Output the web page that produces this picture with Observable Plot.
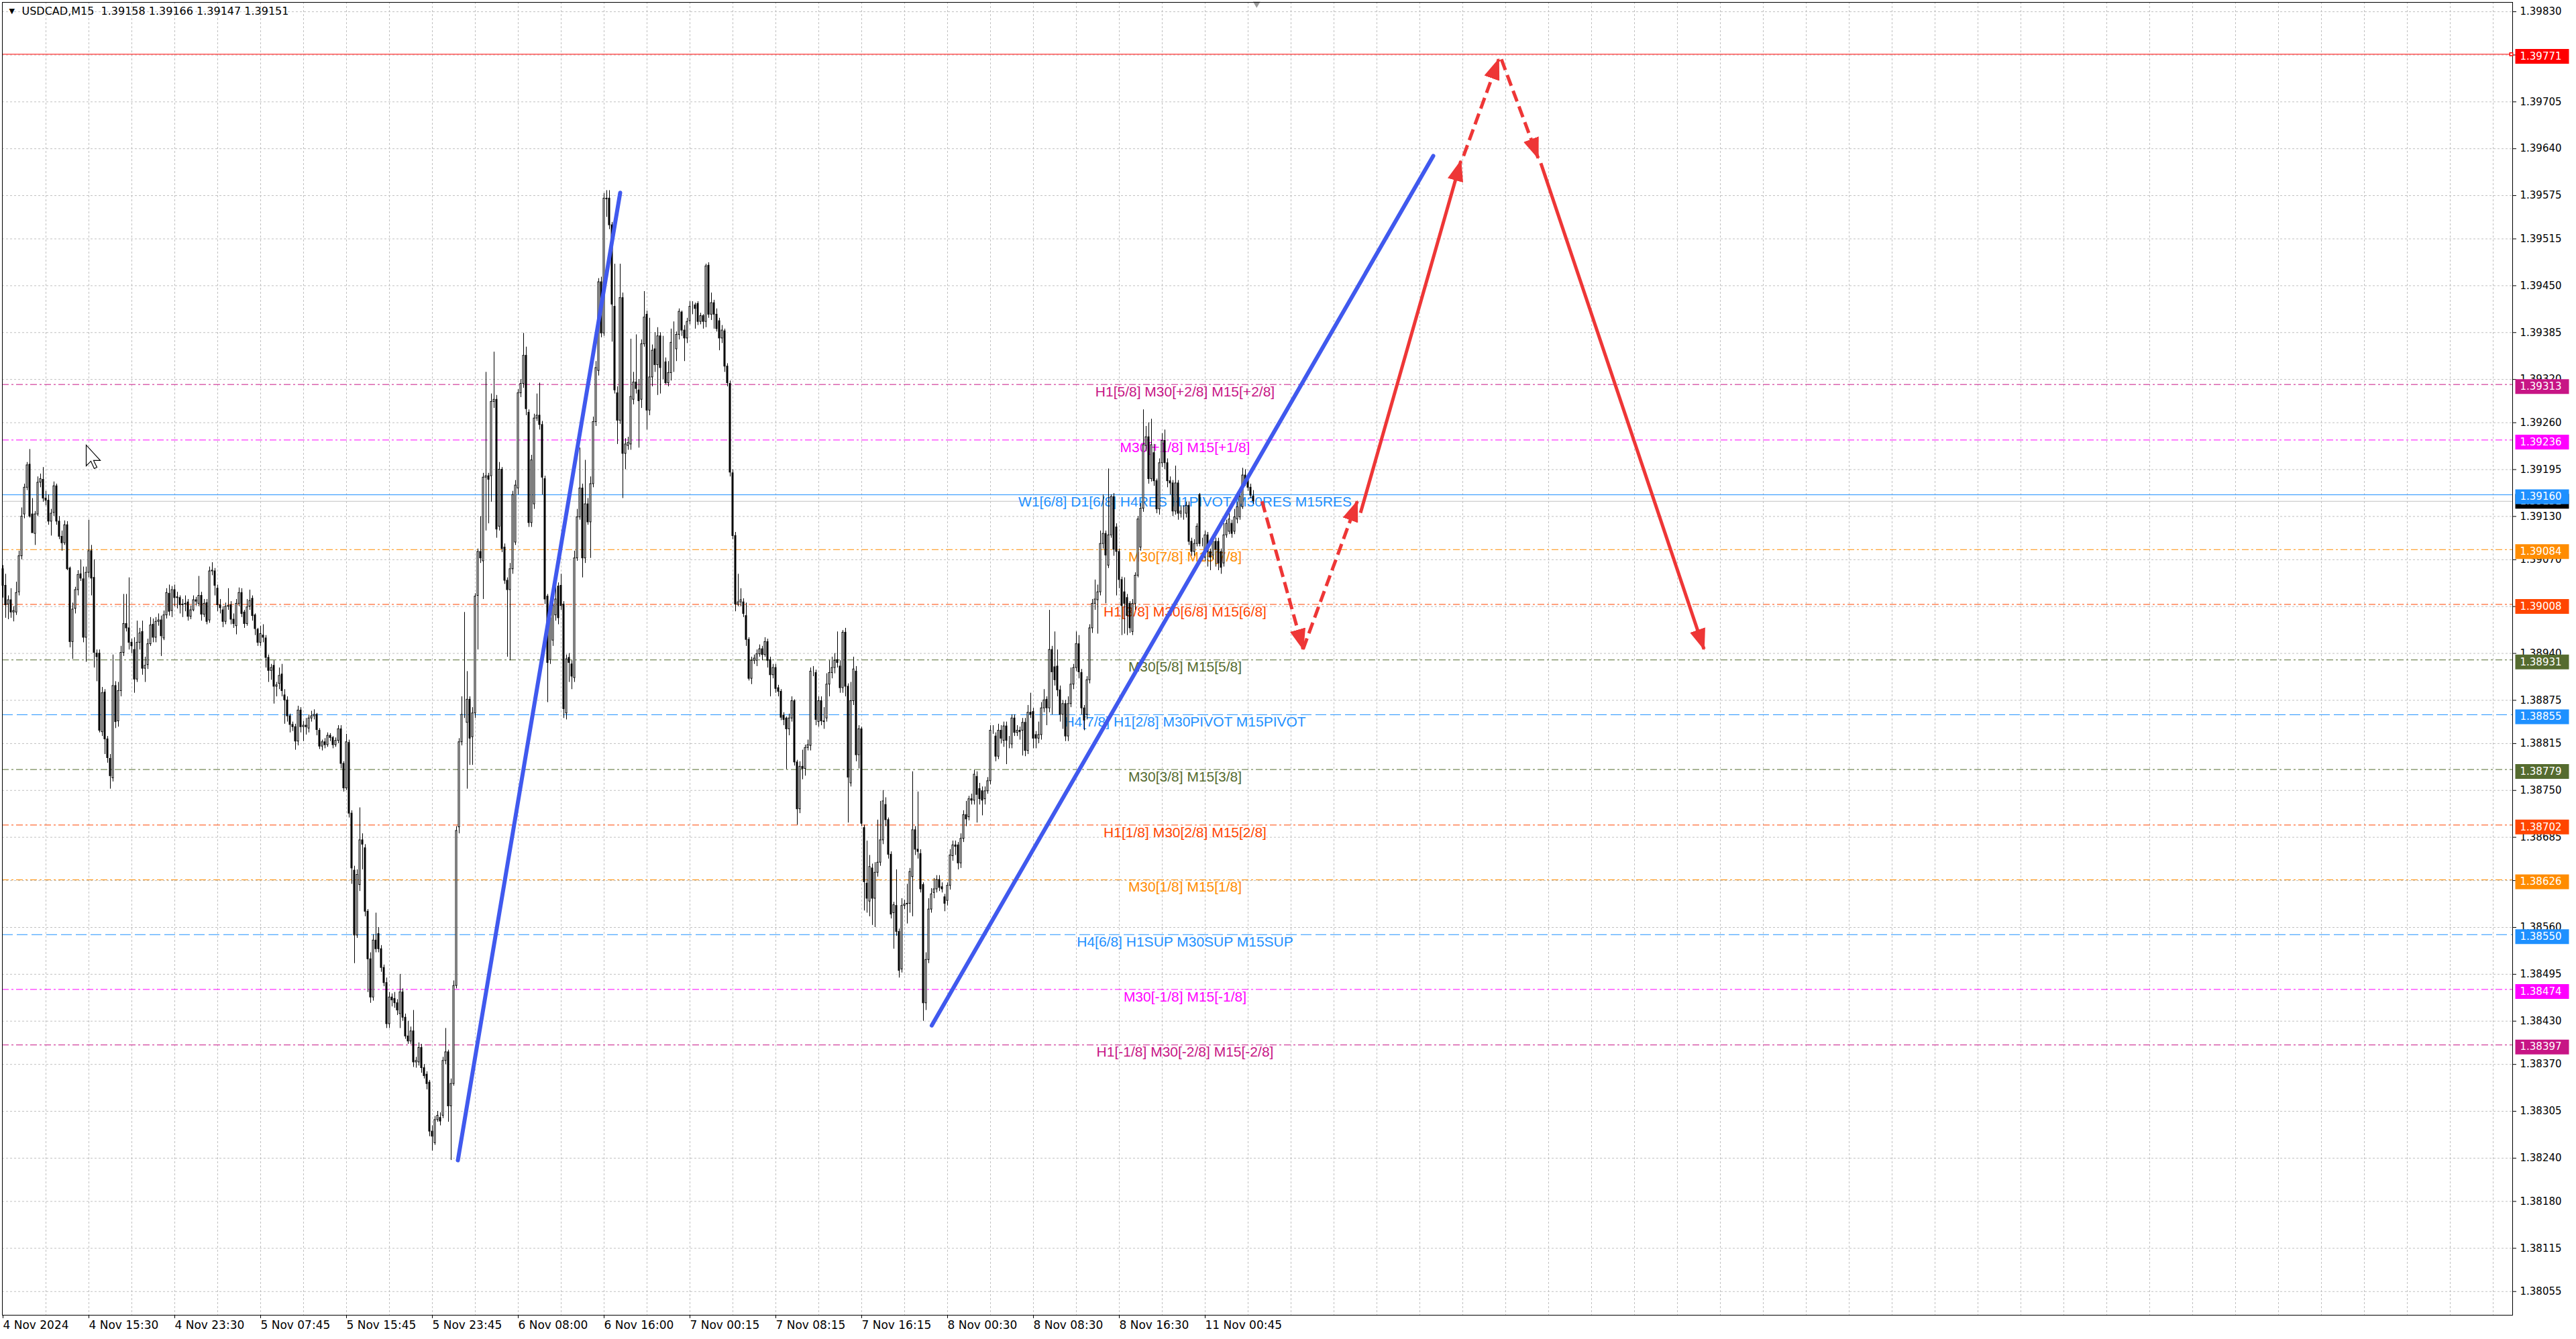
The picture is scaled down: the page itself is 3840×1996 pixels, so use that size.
<!DOCTYPE html>
<html><head><meta charset="utf-8">
<script src="https://cdn.jsdelivr.net/npm/d3@7"></script>
<script src="https://cdn.jsdelivr.net/npm/@observablehq/plot@0.6"></script>
<style>
html,body{margin:0;padding:0;background:#fff;}
#chart{width:3840px;height:1996px;overflow:hidden;}
</style></head><body><div id="chart"></div>
<script>
// ---------------- DATA ----------------
const symbolTitle = "USDCAD,M15\u00a0 1.39158 1.39166 1.39147 1.39151";
const BASE = 1.38; // candle values below are points (1e-5) above BASE
const openPts = [
1057,1034,1008,1014,997,997,1025,1075,1133,1170,
1202,1133,1106,1133,1177,1181,1155,1152,1123,1135,
1172,1123,1102,1093,1118,1058,956,1002,1028,1050,
1043,962,1052,1082,1045,940,940,831,886,821,
794,767,895,846,888,941,981,975,955,945,
904,955,970,919,924,953,980,962,984,986,
961,993,1023,999,1028,1018,1017,1007,1008,1011,
991,1000,1014,1009,1020,994,1010,986,1054,1054,
1030,1007,1000,984,1005,1007,987,978,1009,1024,
997,981,1005,1016,993,973,955,965,961,934,
916,923,894,898,911,882,875,853,841,838,
818,861,838,840,836,850,853,855,833,811,
817,813,826,823,813,819,835,787,753,816,
718,639,549,619,681,670,582,516,463,542,
551,530,504,483,426,463,461,455,440,470,
435,409,402,416,373,373,393,365,356,345,
277,261,293,296,299,375,387,312,343,479,
699,817,855,844,876,824,857,1020,1081,1068,
1184,1186,1186,1289,1292,1116,1195,1087,1041,1028,
1057,1094,1169,1301,1314,1353,1274,1121,1147,1266,
1270,1257,1182,1019,931,958,993,1033,1034,1008,
857,934,925,906,1072,1129,1169,1072,1147,1122,
1175,1261,1332,1455,1384,1570,1571,1534,1421,1301,
1263,1433,1217,1228,1230,1292,1316,1305,1292,1369,
1410,1277,1323,1362,1340,1380,1347,1344,1315,1329,
1366,1362,1382,1413,1388,1377,1401,1421,1423,1425,
1400,1408,1400,1478,1410,1426,1410,1401,1377,1387,
1338,1314,1190,1103,1008,1011,1011,992,959,905,
930,930,939,946,938,956,931,910,920,892,
887,854,850,835,850,874,789,724,783,780,
809,812,915,913,845,874,846,850,897,913,
920,931,922,892,969,894,760,874,915,799,
835,698,621,596,642,600,636,650,681,730,
709,661,580,590,554,502,590,592,593,630,
695,668,662,619,455,515,585,608,613,626,
616,602,597,618,659,674,674,649,683,716,
713,738,736,769,752,749,738,749,763,833,
825,797,833,819,839,816,814,850,830,833,
833,844,805,858,859,827,822,827,864,876,
864,945,921,922,889,855,870,825,870,897,
920,953,913,864,855,903,975,1009,1014,1025,
1092,1106,1062,1104,1157,1115,1081,1042,1025,1017,
1009,970,1009,1048,1087,1141,1228,1240,1182,1218,
1179,1140,1204,1235,1204,1179,1176,1137,1176,1134,
1137,1134,1145,1095,1081,1092,1160,1094,1073,1104,
1081,1076,1095,1095,1081,1065,1104,1109,1120,1109,
1126,1129,1143,1187,1182,1170,1158];
const closePts = [
1034,1007,1014,997,999,1024,1075,1130,1170,1201,
1130,1107,1133,1177,1182,1155,1152,1123,1134,1172,
1123,1102,1093,1118,1057,956,1001,1028,1049,1044,
962,1052,1082,1044,941,935,833,885,821,795,
770,895,845,888,941,981,975,955,950,904,
955,968,919,923,953,979,962,984,986,964,
993,1024,998,1028,1017,1017,1007,1008,1009,991,
1000,1014,1012,1020,994,1009,984,1054,1055,1034,
1007,1003,984,1005,1006,987,981,1009,1024,995,
981,1004,1013,992,974,955,967,962,934,916,
920,894,896,909,888,875,853,841,838,818,
861,838,840,838,850,853,855,834,811,817,
813,826,823,813,819,835,787,753,817,718,
642,549,633,681,675,582,516,463,542,530,
530,504,483,426,463,459,455,445,470,435,
409,402,416,373,375,393,365,354,343,277,
270,293,299,291,375,387,312,343,479,694,
817,855,855,876,822,857,1019,1081,1072,1184,
1186,1181,1289,1292,1112,1195,1085,1041,1028,1057,
1160,1173,1301,1314,1353,1279,1121,1208,1266,1270,
1257,1184,1015,927,989,1006,1015,989,1006,863,
932,927,908,1072,1129,1169,1072,1147,1122,1175,
1261,1336,1455,1384,1571,1571,1534,1424,1305,1263,
1433,1217,1230,1232,1296,1316,1307,1290,1369,1406,
1277,1323,1360,1340,1380,1336,1347,1315,1329,1371,
1366,1382,1414,1388,1377,1400,1421,1421,1418,1400,
1408,1400,1477,1410,1426,1410,1390,1377,1388,1338,
1315,1191,1103,1008,1011,1014,995,959,905,930,
933,939,946,938,956,930,910,920,891,887,
851,848,835,850,874,789,724,783,780,809,
813,915,915,848,874,846,845,897,913,920,
930,927,892,969,894,768,874,918,799,835,
704,623,600,644,600,636,650,681,735,709,
661,578,591,554,500,590,592,593,637,695,
668,665,613,455,515,585,606,613,626,615,
613,593,618,660,674,672,649,683,716,710,
738,736,772,744,738,736,749,763,833,833,
797,833,822,839,819,816,850,830,833,831,
844,805,858,855,822,822,827,864,875,864,
945,914,903,889,855,870,825,870,897,920,
953,914,864,847,903,975,1009,1015,1025,1092,
1106,1076,1104,1157,1084,1081,1042,1006,1009,992,
975,1009,1048,1126,1141,1229,1240,1182,1229,1179,
1140,1204,1235,1204,1179,1176,1137,1176,1134,1137,
1137,1145,1095,1081,1092,1116,1092,1094,1104,1081,
1073,1095,1084,1065,1059,1104,1120,1126,1106,1129,
1143,1157,1187,1179,1170,1159,1151];
const highPts = [
1062,1050,1020,1030,1005,1039,1082,1142,1175,1205,
1223,1155,1137,1185,1189,1198,1165,1160,1140,1178,
1175,1130,1110,1124,1123,1060,1010,1032,1055,1070,
1060,1060,1125,1090,1070,945,945,893,890,825,
800,938,901,900,950,1022,1022,1045,960,962,
985,975,985,935,960,990,988,990,995,992,
999,1030,1035,1033,1035,1025,1020,1015,1020,1015,
1006,1020,1018,1047,1025,1015,1015,1060,1066,1058,
1035,1015,1005,1010,1030,1012,995,1015,1031,1030,
1000,1015,1028,1020,995,975,978,980,965,938,
925,930,900,920,925,890,880,856,845,842,
867,865,846,850,855,860,862,857,836,820,
822,830,829,825,823,840,840,790,828,820,
722,645,640,726,690,675,585,525,550,580,
560,535,508,490,470,468,470,460,495,475,
440,430,422,445,380,400,398,370,360,348,
285,298,305,303,380,420,390,350,486,700,
822,880,997,915,880,865,1023,1085,1130,1190,
1330,1190,1300,1358,1298,1205,1198,1092,1045,1065,
1165,1180,1306,1320,1384,1365,1278,1215,1272,1300,
1315,1262,1186,1022,995,1012,1040,1038,1050,1012,
938,940,930,1082,1140,1225,1175,1208,1155,1185,
1268,1345,1460,1462,1578,1582,1582,1538,1480,1310,
1480,1440,1238,1240,1376,1330,1382,1320,1375,1442,
1415,1405,1368,1385,1392,1385,1380,1350,1345,1390,
1400,1386,1418,1415,1395,1405,1428,1428,1426,1428,
1412,1410,1480,1482,1440,1430,1418,1405,1395,1390,
1342,1318,1195,1108,1050,1030,1016,1010,962,935,
938,945,952,950,962,960,935,925,925,896,
890,858,852,856,880,876,792,790,806,813,
820,920,922,917,880,880,865,912,930,935,
940,970,930,972,975,898,900,935,922,840,
838,702,680,660,648,650,709,735,750,740,
712,665,595,640,558,600,598,620,642,776,
700,748,668,622,525,600,614,628,632,632,
622,606,622,668,680,680,678,690,722,735,
742,745,778,776,760,755,755,768,840,840,
830,842,840,845,845,825,855,855,840,838,
850,850,868,885,864,832,845,872,890,880,
1000,950,970,945,895,875,875,880,920,925,
970,965,918,868,908,980,1015,1042,1035,1110,
1160,1110,1196,1160,1162,1120,1085,1046,1045,1022,
1012,1015,1052,1130,1148,1278,1255,1260,1265,1230,
1182,1210,1245,1250,1210,1185,1180,1200,1180,1145,
1145,1150,1150,1100,1098,1120,1162,1100,1110,1108,
1085,1100,1100,1100,1085,1120,1125,1135,1125,1140,
1150,1165,1197,1195,1188,1175,1166];
const lowPts = [
1017,989,987,989,984,993,1020,1070,1127,1166,
1128,1107,1090,1130,1170,1150,1145,1118,1103,1130,
1118,1098,1082,1090,1055,948,932,995,1020,1040,
955,928,1045,1020,920,901,830,825,800,788,
752,762,836,838,880,936,970,945,940,885,
900,945,910,900,918,950,955,955,978,936,
958,988,992,990,1005,1002,995,990,998,985,
987,998,1006,1005,985,990,980,982,1048,1020,
998,995,976,980,1000,980,975,966,1005,990,
975,978,1000,985,965,950,950,955,920,900,
903,870,880,890,880,842,845,830,832,806,
812,830,818,827,830,845,848,826,807,805,
808,810,818,808,810,815,780,748,750,712,
620,510,545,610,640,575,470,455,458,525,
525,498,478,420,420,450,448,438,420,430,
405,398,398,366,365,368,358,350,335,270,
250,258,290,285,295,370,290,237,340,475,
690,812,850,752,785,785,850,945,1065,1015,
1110,1120,1150,1280,1100,1110,1080,1036,935,930,
1050,1090,1160,1295,1308,1270,1115,1115,1140,1262,
1250,1160,1008,872,925,950,985,980,1000,850,
848,900,890,900,1068,1125,1045,1065,1118,1072,
1170,1255,1325,1378,1380,1545,1528,1372,1300,1230,
1258,1155,1195,1222,1222,1285,1300,1225,1280,1365,
1250,1270,1310,1330,1298,1300,1320,1313,1310,1318,
1330,1345,1375,1380,1345,1370,1396,1410,1390,1395,
1396,1390,1392,1405,1402,1390,1386,1360,1370,1330,
1310,1185,1098,998,1005,1005,990,950,902,897,
925,922,935,930,935,920,880,905,885,880,
847,840,779,826,845,784,702,718,765,770,
805,805,908,840,838,840,835,845,880,905,
912,920,885,885,880,705,755,868,790,780,
700,583,580,575,563,560,630,645,675,700,
655,572,530,548,490,497,585,565,580,575,
660,655,608,430,445,510,580,600,608,610,
608,582,590,612,652,660,640,642,678,700,
708,730,730,705,730,715,730,745,758,828,
790,793,815,810,786,808,808,825,825,820,
798,797,800,850,808,808,815,820,858,840,
858,855,895,880,845,835,818,818,865,890,
915,905,855,833,848,898,968,1000,967,1020,
1085,1009,1058,1100,1075,1020,1030,965,967,965,
968,965,1000,1045,1082,1136,1220,1175,1178,1172,
1134,1132,1198,1195,1170,1160,1130,1132,1125,1128,
1125,1128,1090,1075,1075,1088,1088,1088,1068,1060,
1055,1070,1060,1055,1050,1060,1100,1105,1100,1105,
1120,1125,1140,1172,1165,1155,1147];

// Murrey-math levels
const levelPrices = [1.39313,1.39236,1.39160,1.39084,1.39008,1.38931,1.38855,1.38779,1.38702,1.38626,1.38550,1.38474,1.38397];
const levelNames = [
  "H1[5/8] M30[+2/8] M15[+2/8]",
  "M30[+1/8] M15[+1/8]",
  "W1[6/8] D1[6/8] H4RES H1PIVOT M30RES M15RES",
  "M30[7/8] M15[7/8]",
  "H1[3/8] M30[6/8] M15[6/8]",
  "M30[5/8] M15[5/8]",
  "H4[7/8] H1[2/8] M30PIVOT M15PIVOT",
  "M30[3/8] M15[3/8]",
  "H1[1/8] M30[2/8] M15[2/8]",
  "M30[1/8] M15[1/8]",
  "H4[6/8] H1SUP M30SUP M15SUP",
  "M30[-1/8] M15[-1/8]",
  "H1[-1/8] M30[-2/8] M15[-2/8]"
];
const targetPrice = 1.39771;
const bidPrice = 1.39151;

// price axis ticks and time axis ticks
const yTicks = [1.39830,1.39770,1.39705,1.39640,1.39575,1.39515,1.39450,1.39385,1.39320,1.39260,1.39195,1.39130,1.39070,1.39005,1.38940,1.38875,1.38815,1.38750,1.38685,1.38625,1.38560,1.38495,1.38430,1.38370,1.38305,1.38240,1.38180,1.38115,1.38055];
const xTickBars = [0,32,64,96,128,160,192,224,256,288,320,352,384,416,448];
const xTickLabels = ["4 Nov 2024","4 Nov 15:30","4 Nov 23:30","5 Nov 07:45","5 Nov 15:45","5 Nov 23:45","6 Nov 08:00","6 Nov 16:00","7 Nov 00:15","7 Nov 08:15","7 Nov 16:15","8 Nov 00:30","8 Nov 08:30","8 Nov 16:30","11 Nov 00:45"];
const gridBars = d3.range(16, 935, 16);

// trend lines (bar index, price)
const trendFromBar = [169.5, 346.1];
const trendFromPrice = [1.38237, 1.38424];
const trendToBar = [230.0, 533.0];
const trendToPrice = [1.39579, 1.39630];

// projected path (bar index, price), one entry per segment
const segFromBar   = [469.2, 484.5, 505.9, 544.3, 558.4, 573.1];
const segFromPrice = [1.39151, 1.38946, 1.39135, 1.39630, 1.39764, 1.39620];
const segToBar     = [484.5, 504.7, 543.3, 557.4, 572.1, 633.9];
const segToPrice   = [1.38946, 1.39151, 1.39623, 1.39764, 1.39627, 1.38946];
const segDashed    = [true, true, false, true, true, false];

// cursor position and chart-shift marker (bar index, price)
const cursorBar = 31, cursorPrice = 1.39229;
const shiftBar = 467.2;

// ---------------- STYLES ----------------
const levelColors = ["#C71585","#FF00FF","#1E90FF","#FF8C00","#FF4500","#556B2F","#1E90FF","#556B2F","#FF4500","#FF8C00","#1E90FF","#FF00FF","#C71585"];
const levelStyles = ["dashdot","dashdot","solid","dashdot","dashdot","dashdot","dash","dashdot","dashdot","dashdot","dash","dashdot","dashdot"];
const LABEL_BAR = 440.5;
const RED = "#EE3636";
const BLUE = "#4059EE";

// ---------------- BUILD ----------------
const toPrice = p => +(BASE + p / 1e5).toFixed(5);
const candles = openPts.map((o, i) => {
  const open = toPrice(o), close = toPrice(closePts[i]);
  return {i, open, close,
    high: Math.max(toPrice(highPts[i]), open, close),
    low: Math.min(toPrice(lowPts[i]), open, close)};
});
const levels = levelPrices.map((p, k) => ({price: p, name: levelNames[k], color: levelColors[k], style: levelStyles[k]}));
const trends = trendFromBar.map((b, k) => ({x1: b, y1: trendFromPrice[k], x2: trendToBar[k], y2: trendToPrice[k]}));
const segs = segDashed.map((d, k) => ({x1: segFromBar[k], y1: segFromPrice[k], x2: segToBar[k], y2: segToPrice[k], dashed: d}));
const boxes = [{price: targetPrice, color: "#FF0000"}].concat(levels.map(l => ({price: l.price, color: l.color})));
const boxSymbol = {draw(ctx) { ctx.rect(-40, -11, 80, 22); }};
const cursorSymbol = {draw(ctx) {
  ctx.moveTo(0, 0); ctx.lineTo(0, 31); ctx.lineTo(7, 24); ctx.lineTo(12, 35);
  ctx.lineTo(16, 33); ctx.lineTo(11, 23); ctx.lineTo(21, 23); ctx.closePath();
}};
const fmt5 = d3.format(".5f");

const plot = Plot.plot({
  width: 3840, height: 1996,
  marginLeft: 3, marginRight: 95, marginTop: 3, marginBottom: 36,
  x: {type: "linear", domain: [-0.25, 935.25], axis: null},
  y: {type: "linear", domain: [1.380222, 1.398430], axis: null},
  color: {type: "identity"},
  style: {fontFamily: "DejaVu Sans, sans-serif", fontSize: "15px", color: "#000", background: "#fff", overflow: "visible"},
  marks: [
    Plot.gridX(gridBars, {stroke: "#c0c0c0", strokeOpacity: 1, strokeDasharray: "3,3"}),
    Plot.gridY(yTicks, {stroke: "#c0c0c0", strokeOpacity: 1, strokeDasharray: "3,3"}),
    Plot.ruleY(levels.filter(l => l.style === "dashdot"), {y: "price", stroke: "color", strokeWidth: 1, strokeDasharray: "10,4,3,4"}),
    Plot.ruleY(levels.filter(l => l.style === "dash"), {y: "price", stroke: "color", strokeWidth: 1, strokeDasharray: "16,6"}),
    Plot.ruleY(levels.filter(l => l.style === "solid"), {y: "price", stroke: "color", strokeWidth: 1}),
    Plot.ruleY([bidPrice], {stroke: "#c0c0c0", strokeWidth: 1}),
    Plot.ruleY([targetPrice], {stroke: "#FF0000", strokeWidth: 1}),
    Plot.text(levels, {x: () => LABEL_BAR, y: "price", text: "name", fill: "color", fontFamily: "Liberation Sans, Arial, sans-serif", fontSize: 21, dy: 11, textAnchor: "middle"}),
    Plot.ruleX(candles, {x: "i", y1: "low", y2: "high", stroke: "#000", strokeWidth: 1}),
    Plot.rect(candles, {x1: d => d.i - 0.25, x2: d => d.i + 0.25, y1: "open", y2: "close",
      fill: d => d.close >= d.open ? "#ffffff" : "#000000", stroke: "#000", strokeWidth: 1}),
    Plot.link(trends, {x1: "x1", y1: "y1", x2: "x2", y2: "y2", stroke: BLUE, strokeWidth: 6, strokeLinecap: "round"}),
    Plot.link(segs.filter(s => !s.dashed), {x1: "x1", y1: "y1", x2: "x2", y2: "y2", stroke: RED, strokeWidth: 5, ariaDescription: "arrow"}),
    Plot.link(segs.filter(s => s.dashed), {x1: "x1", y1: "y1", x2: "x2", y2: "y2", stroke: RED, strokeWidth: 5, strokeDasharray: "17,8", ariaDescription: "arrow"}),
    Plot.dot([cursorPrice], {x: () => cursorBar, y: d => d, symbol: cursorSymbol, fill: "#fff", stroke: "#000", strokeWidth: 1.2}),
    Plot.dot([shiftBar], {x: d => d, frameAnchor: "top", dy: 2, symbol: "triangle", rotate: 180, r: 4, fill: "#9a9a9a", stroke: null}),
    Plot.frame({stroke: "#000", strokeWidth: 1}),
    Plot.axisY(yTicks, {anchor: "right", tickFormat: fmt5, tickSize: 5, tickPadding: 6, label: null, fontSize: 15}),
    Plot.axisX(xTickBars, {anchor: "bottom", tickFormat: d => xTickLabels[xTickBars.indexOf(d)], tickSize: 5, tickPadding: 3, textAnchor: "start", label: null, fontSize: 17}),
    // bid price label (mostly hidden under the blue level box)
    Plot.dot([bidPrice], {y: d => d, frameAnchor: "right", dx: 44, symbol: boxSymbol, fill: "#000", stroke: null}),
    Plot.text([bidPrice], {y: d => d, frameAnchor: "right", dx: 11, textAnchor: "start", text: d => fmt5(d), fill: "#fff", fontSize: 15}),
    Plot.dot(boxes, {y: "price", frameAnchor: "right", dx: 44, dy: 3, symbol: boxSymbol, fill: "color", stroke: null}),
    Plot.text(boxes, {y: "price", frameAnchor: "right", dx: 11, dy: 3, textAnchor: "start", text: d => fmt5(d.price), fill: "#ffffff", fontSize: 15}),
    Plot.dot([targetPrice], {y: d => d, frameAnchor: "right", dx: -2, symbol: "square", r: 2.5, stroke: "#FF0000", fill: "#fff"}),
    Plot.text([symbolTitle], {frameAnchor: "top-left", dx: 29, dy: 7, textAnchor: "start", lineAnchor: "top", fontSize: 16, fill: "#000"}),
    Plot.text(["\u25BC"], {frameAnchor: "top-left", dx: 10, dy: 9, textAnchor: "start", lineAnchor: "top", fontSize: 11, fill: "#000"})
  ]
});
document.getElementById("chart").appendChild(plot);

// filled arrowheads on the projected path
const svg = d3.select(plot);
const defs = svg.append("defs");
defs.append("marker").attr("id", "ahead").attr("markerUnits", "userSpaceOnUse")
  .attr("viewBox", "0 0 32 24").attr("refX", 30).attr("refY", 12)
  .attr("markerWidth", 32).attr("markerHeight", 24).attr("orient", "auto")
  .append("path").attr("d", "M0,0L32,12L0,24Z").attr("fill", RED).attr("stroke", "none");
svg.selectAll("g").filter(function() {
  return this.getAttribute("stroke") === RED || this.getAttribute("aria-description") === "arrow";
}).selectAll("path").attr("marker-end", "url(#ahead)");
</script></body></html>
